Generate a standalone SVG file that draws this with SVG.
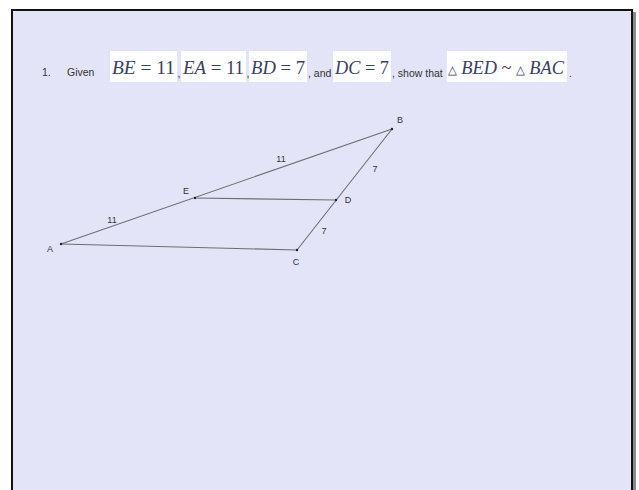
<svg xmlns="http://www.w3.org/2000/svg" width="639" height="490" viewBox="0 0 639 490">
<style>
.t{font-family:"Liberation Sans",Arial,sans-serif;font-size:10.5px;fill:#333}
.m{font-family:"Liberation Serif","Times New Roman",serif;font-size:19px;fill:#3b4160}
.mi{font-style:italic}
.tri{font-size:12px}
.box{fill:#ffffff}
.lab{font-family:"Liberation Sans",Arial,sans-serif;font-size:9px;fill:#333;text-anchor:middle}
.seg{stroke:#6e6e6e;stroke-width:1.1;fill:none}
.pt{fill:#222}
</style>
<rect x="0" y="0" width="639" height="490" fill="#ffffff"/>
<rect x="633" y="12" width="3" height="478" fill="#8a8a8a"/>
<rect x="12" y="10" width="620" height="482" fill="#e4e4f8" stroke="#111" stroke-width="2"/>
<g id="problem">
<text class="t" x="42" y="76">1.</text>
<text class="t" x="67" y="76">Given</text>
<rect class="box" x="110" y="51" width="67" height="31"/>
<text class="m" x="112" y="74" textLength="63" lengthAdjust="spacingAndGlyphs"><tspan class="mi">BE</tspan> = 11</text>
<text class="t" x="177.5" y="77">,</text>
<rect class="box" x="181" y="51" width="65" height="31"/>
<text class="m" x="183" y="74" textLength="61" lengthAdjust="spacingAndGlyphs"><tspan class="mi">EA</tspan> = 11</text>
<text class="t" x="246.5" y="77">,</text>
<rect class="box" x="249" y="51" width="58" height="31"/>
<text class="m" x="251" y="74" textLength="54" lengthAdjust="spacingAndGlyphs"><tspan class="mi">BD</tspan> = 7</text>
<text class="t" x="308" y="77">, and</text>
<rect class="box" x="333" y="51" width="58" height="31"/>
<text class="m" x="335" y="74" textLength="54" lengthAdjust="spacingAndGlyphs"><tspan class="mi">DC</tspan> = 7</text>
<text class="t" x="392" y="77">, show that</text>
<rect class="box" x="447" y="51" width="120" height="31"/>
<text class="m" x="448" y="74" textLength="116" lengthAdjust="spacingAndGlyphs"><tspan class="tri">△</tspan> <tspan class="mi">BED</tspan> ~ <tspan class="tri">△</tspan> <tspan class="mi">BAC</tspan></text>
<text class="t" x="569" y="77">.</text>
</g>
<g id="connectors">
<line class="seg" x1="61" y1="244" x2="392" y2="129"/>
<line class="seg" x1="392" y1="129" x2="297" y2="250"/>
<line class="seg" x1="61" y1="244" x2="297" y2="250"/>
<line class="seg" x1="195" y1="198" x2="336" y2="200"/>
</g>
<g id="A"><circle class="pt" cx="61" cy="244" r="1.2"/><text class="lab" x="50" y="252">A</text></g>
<g id="B"><circle class="pt" cx="392" cy="129" r="1.2"/><text class="lab" x="400" y="123">B</text></g>
<g id="C"><circle class="pt" cx="297" cy="250" r="1.2"/><text class="lab" x="296" y="265">C</text></g>
<g id="D"><circle class="pt" cx="336" cy="200" r="1.2"/><text class="lab" x="348" y="203">D</text></g>
<g id="E"><circle class="pt" cx="195" cy="198" r="1.2"/><text class="lab" x="186" y="194">E</text></g>
<g id="labels">
<text class="lab" x="281" y="162">11</text>
<text class="lab" x="112" y="223">11</text>
<text class="lab" x="375" y="172">7</text>
<text class="lab" x="324" y="234">7</text>
</g>
</svg>
